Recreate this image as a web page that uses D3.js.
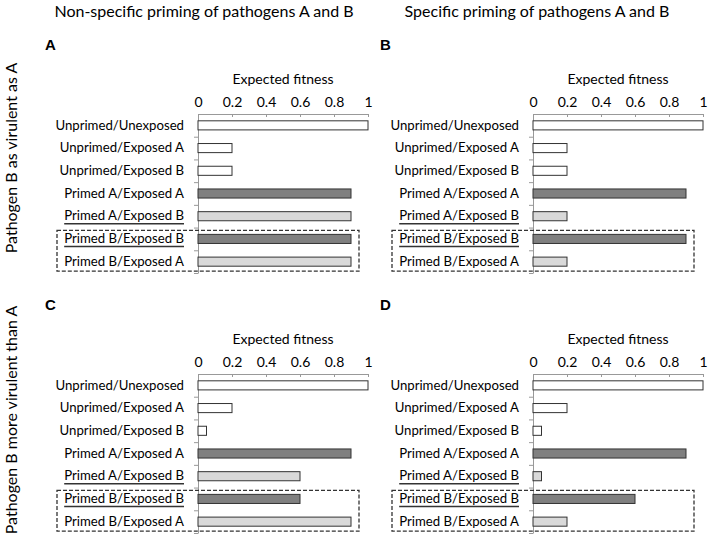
<!DOCTYPE html>
<html>
<head>
<meta charset="utf-8">
<script src="https://cdn.jsdelivr.net/npm/d3@7"></script>
<style>
  body { margin: 0; background: #fff; }
  text { font-family: Lato, "Open Sans", sans-serif; fill: #000; }
</style>
</head>
<body>
<svg id="chart" width="709" height="540"></svg>
<script>
// categories (top to bottom), shared by all four panels
var categories = [
  "Unprimed/Unexposed",
  "Unprimed/Exposed A",
  "Unprimed/Exposed B",
  "Primed A/Exposed A",
  "Primed A/Exposed B",
  "Primed B/Exposed B",
  "Primed B/Exposed A"
];
// bar kind: 0 = unprimed (white), 1 = matched priming (dark), 2 = mismatched (light)
var kinds = [0, 0, 0, 1, 2, 1, 2];
var underlined = ["Primed A/Exposed B", "Primed B/Exposed B"];

// expected fitness per panel
var valuesA = [1, 0.2, 0.2, 0.9, 0.9, 0.9, 0.9];
var valuesB = [1, 0.2, 0.2, 0.9, 0.2, 0.9, 0.2];
var valuesC = [1, 0.2, 0.05, 0.9, 0.6, 0.6, 0.9];
var valuesD = [1, 0.2, 0.05, 0.9, 0.05, 0.6, 0.2];

var xTicks = [0, 0.2, 0.4, 0.6, 0.8, 1];
var columnTitles = ["Non-specific priming of pathogens A and B", "Specific priming of pathogens A and B"];
var rowTitles = ["Pathogen B as virulent as A", "Pathogen B more virulent than A"];
var panelLetters = ["A", "B", "C", "D"];

var fills = ["#ffffff", "#808080", "#d9d9d9"];

var svg = d3.select("#chart");

// column titles
svg.selectAll(".coltitle").data(columnTitles).enter().append("text")
  .attr("class", "coltitle")
  .attr("x", function(d, i) { return i == 0 ? 204 : 537; })
  .attr("y", 17)
  .attr("text-anchor", "middle")
  .style("font-size", "16px")
  .text(function(d) { return d; });

// row titles (rotated)
svg.selectAll(".rowtitle").data(rowTitles).enter().append("text")
  .attr("class", "rowtitle")
  .attr("transform", function(d, i) { return "translate(17," + (158 + i * 262) + ") rotate(-90)"; })
  .attr("text-anchor", "middle")
  .style("font-size", "16px")
  .text(function(d) { return d; });

/**
 * draws one panel with its origin (x of value 0, y of top axis)
 */
function drawPanel(values, letter, x0, top) {
  var g = svg.append("g");

  var x = d3.scaleLinear().domain([0, 1]).range([x0, x0 + 170]);
  var y = d3.scaleBand().domain(categories).range([top, top + 159]).paddingInner(0.6).paddingOuter(0.3);
  var yEdge = d3.scaleLinear().domain([0, categories.length]).range([top, top + 159]);

  // panel letter
  g.append("text")
    .attr("x", x0 - 153)
    .attr("y", top - 64)
    .style("font-family", "'Liberation Sans', Arial, sans-serif")
    .style("font-weight", "bold")
    .style("font-size", "15px")
    .text(letter);

  // axis title
  g.append("text")
    .attr("x", x0 + 85)
    .attr("y", top - 30)
    .attr("text-anchor", "middle")
    .style("font-size", "14px")
    .text("Expected fitness");

  // top value axis
  var xAxis = g.append("g")
    .attr("transform", "translate(0," + top + ")")
    .call(d3.axisTop(x).tickValues(xTicks).tickSizeInner(-3).tickSizeOuter(0).tickPadding(7)
      .tickFormat(function(d) { return d == 0 || d == 1 ? d : d3.format(".1f")(d); }));
  xAxis.selectAll("path, line").attr("stroke", "#999");
  xAxis.selectAll("text").style("font-family", "Lato, sans-serif").style("font-size", "14px").attr("fill", "#000");

  // category axis: boundary ticks
  var yAxis = g.append("g")
    .attr("transform", "translate(" + x0 + ",0)")
    .call(d3.axisLeft(yEdge).tickValues(d3.range(1, categories.length + 1)).tickFormat("").tickSizeInner(4).tickSizeOuter(0));
  yAxis.selectAll("path, line").attr("stroke", "#999");

  // category labels
  var labels = g.append("g")
    .attr("transform", "translate(" + x0 + ",0)")
    .call(d3.axisLeft(y).tickSize(0).tickPadding(14));
  labels.select(".domain").remove();
  labels.selectAll("text")
    .style("font-family", "Lato, sans-serif")
    .style("font-size", "13.2px")
    .attr("fill", "#000");

  // thick underline under the cross-exposed labels
  labels.selectAll(".tick").each(function(d) {
    if (underlined.indexOf(d) < 0) return;
    var t = d3.select(this).select("text");
    var w = t.node().getComputedTextLength();
    d3.select(this).append("line")
      .attr("x1", -14 - w).attr("x2", -14)
      .attr("y1", 7.5).attr("y2", 7.5)
      .attr("stroke", "#333").attr("stroke-width", 1.6);
  });

  // bars
  g.selectAll(".bar").data(values).enter().append("rect")
    .attr("class", "bar")
    .attr("x", x(0))
    .attr("y", function(d, i) { return y(categories[i]); })
    .attr("width", function(d) { return x(d) - x(0); })
    .attr("height", y.bandwidth())
    .attr("fill", function(d, i) { return fills[kinds[i]]; })
    .attr("stroke", "#333")
    .attr("stroke-width", 1);

  // dashed box round the primed-B rows
  var bTop = y(categories[5]) - 4;
  var bBottom = y(categories[6]) + y.bandwidth() + 5;
  g.append("rect")
    .attr("x", x0 - 141)
    .attr("y", bTop)
    .attr("width", 302)
    .attr("height", bBottom - bTop)
    .attr("fill", "none")
    .attr("stroke", "#333")
    .attr("stroke-width", 1.3)
    .attr("stroke-dasharray", "4,2");
}

drawPanel(valuesA, panelLetters[0], 198, 114);
drawPanel(valuesB, panelLetters[1], 533, 114);
drawPanel(valuesC, panelLetters[2], 198, 374);
drawPanel(valuesD, panelLetters[3], 533, 374);
</script>
</body>
</html>
